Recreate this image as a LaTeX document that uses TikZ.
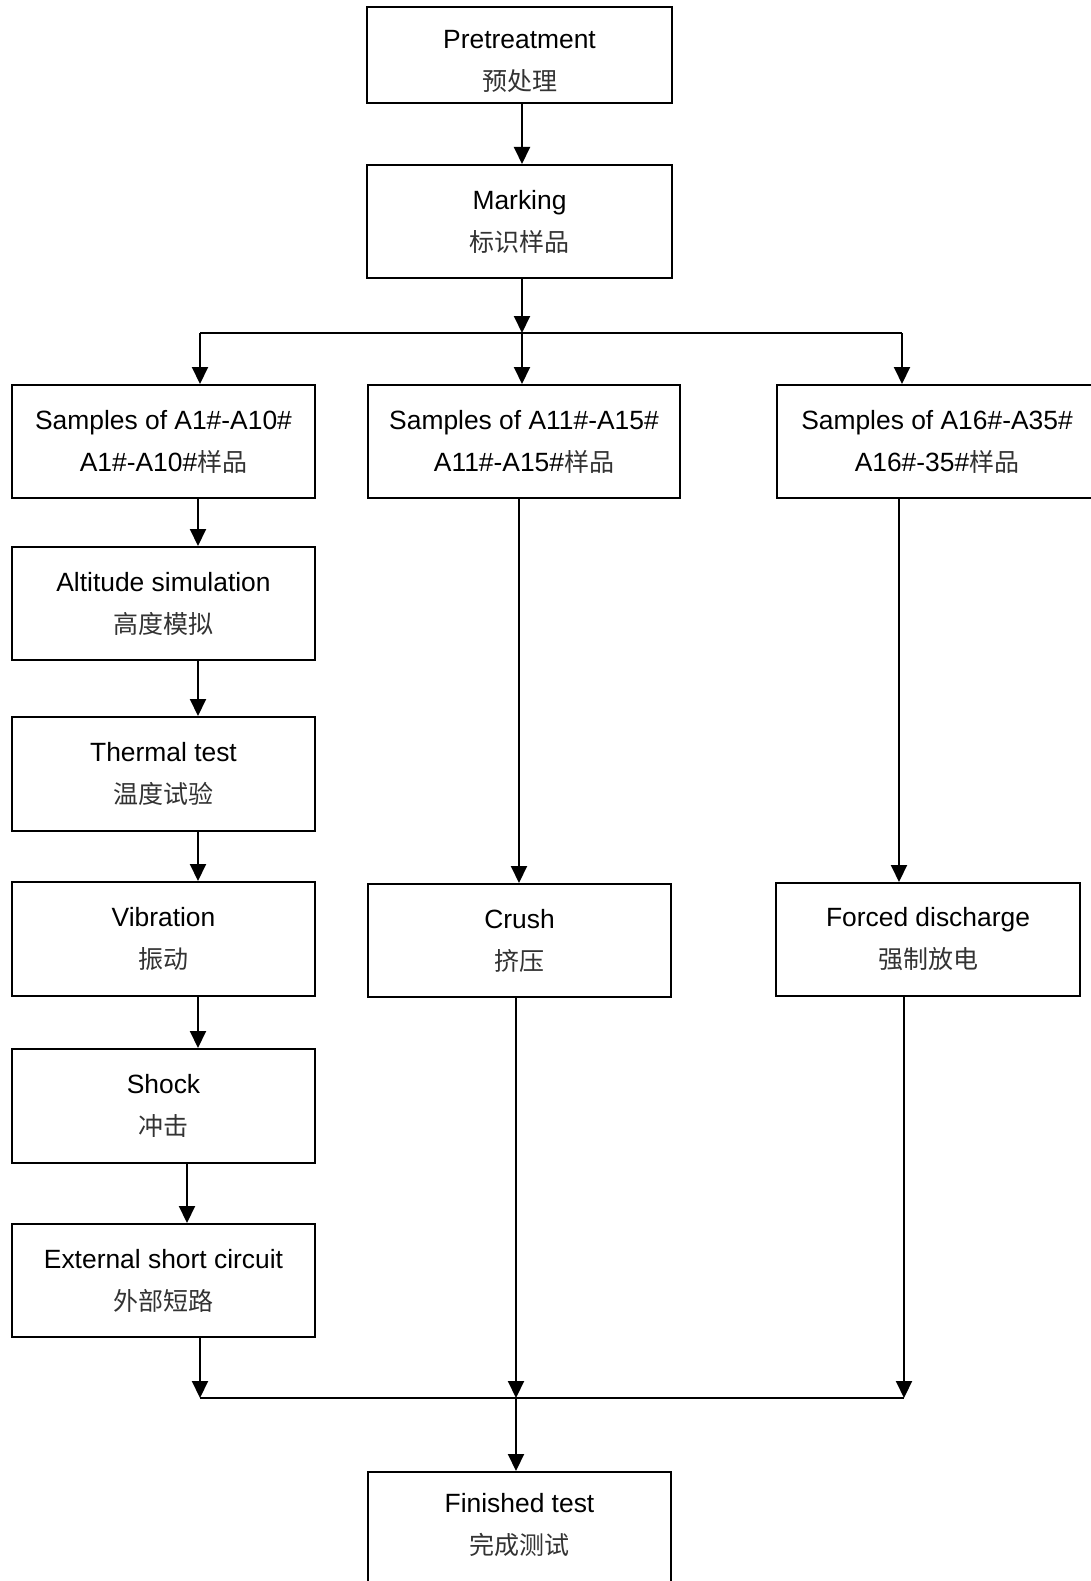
\documentclass[tikz,border=0pt]{standalone}
\usepackage{fontspec}
\setmainfont{Liberation Sans}
\newfontfamily\cjk{Noto Sans CJK SC}
\usetikzlibrary{arrows.meta}
\newcommand\zh[1]{{\cjk\fontsize{25}{42}\selectfont\color{black!80}#1}}
\tikzset{
  box/.style={draw, line width=2pt, inner sep=0pt, align=center,
    font=\fontsize{26.4}{42}\selectfont},
  conn/.style={line width=2pt},
  arr/.style={line width=2pt, -{Triangle[width=16pt,length=17pt]}},
}
\begin{document}
\begin{tikzpicture}[x=1pt,y=-1pt]
\fill[white] (0,0) rectangle (1090,1581);
\useasboundingbox (0,0) rectangle (1090,1581);

\node[box, minimum width=305pt, minimum height=96pt] (pre) at (519.5,55) {\rule{0pt}{31pt}Pretreatment\\\zh{预处理}};
\node[box, minimum width=305pt, minimum height=113pt] (mark) at (519.5,221.5) {Marking\\\zh{标识样品}};

\node[box, minimum width=303pt, minimum height=113pt] (a1) at (163.5,441.5) {Samples of A1\#-A10\#\\A1\#-A10\#\zh{样品}};
\node[box, minimum width=312pt, minimum height=113pt] (a11) at (524,441.5) {Samples of A11\#-A15\#\\A11\#-A15\#\zh{样品}};
\node[box, minimum width=320pt, minimum height=113pt] (a16) at (937,441.5) {Samples of A16\#-A35\#\\A16\#-35\#\zh{样品}};

\node[box, minimum width=303pt, minimum height=113pt] (alt) at (163.5,603.5) {Altitude simulation\\\zh{高度模拟}};
\node[box, minimum width=303pt, minimum height=114pt] (therm) at (163.5,774) {Thermal test\\\zh{温度试验}};
\node[box, minimum width=303pt, minimum height=114pt] (vib) at (163.5,939) {Vibration\\\zh{振动}};
\node[box, minimum width=303pt, minimum height=114pt] (shock) at (163.5,1106) {Shock\\\zh{冲击}};
\node[box, minimum width=303pt, minimum height=113pt] (ext) at (163.5,1280.5) {External short circuit\\\zh{外部短路}};

\node[box, minimum width=303pt, minimum height=113pt] (crush) at (519.5,940.5) {Crush\\\zh{挤压}};
\node[box, minimum width=304pt, minimum height=113pt] (forced) at (928,939.5) {Forced discharge\\\zh{强制放电}};

\node[box, minimum width=303pt, minimum height=118pt] (fin) at (519.5,1531) {Finished test\\\zh{完成测试}\rule[-14pt]{0pt}{14pt}};

% helper coordinates
\coordinate (xm) at (522,333);
\coordinate (xl) at (200,333);
\coordinate (xr) at (902,333);
\coordinate (cl) at (198,0);
\coordinate (cs) at (187,0);
\coordinate (cc) at (519,0);
\coordinate (cf) at (899,0);
\coordinate (ml) at (200,1398);
\coordinate (mm) at (516,1398);
\coordinate (mr) at (904,1398);

\draw[arr] (pre.south -| xm) -- (mark.north -| xm);
\draw[arr] (mark.south -| xm) -- (xm);
\draw[conn] (xl) -- (xr);
\draw[arr] (xl) -- (a1.north -| xl);
\draw[arr] (xm) -- (a11.north -| xm);
\draw[arr] (xr) -- (a16.north -| xr);

\draw[arr] (a1.south -| cl) -- (alt.north -| cl);
\draw[arr] (alt.south -| cl) -- (therm.north -| cl);
\draw[arr] (therm.south -| cl) -- (vib.north -| cl);
\draw[arr] (vib.south -| cl) -- (shock.north -| cl);
\draw[arr] (shock.south -| cs) -- (ext.north -| cs);
\draw[arr] (ext.south -| ml) -- (ml);

\draw[arr] (a11.south -| cc) -- (crush.north -| cc);
\draw[arr] (crush.south -| mm) -- (mm);

\draw[arr] (a16.south -| cf) -- (forced.north -| cf);
\draw[arr] (forced.south -| mr) -- (mr);

\draw[conn] (ml) -- (mr);
\draw[arr] (mm) -- (fin.north -| mm);
\end{tikzpicture}
\end{document}
